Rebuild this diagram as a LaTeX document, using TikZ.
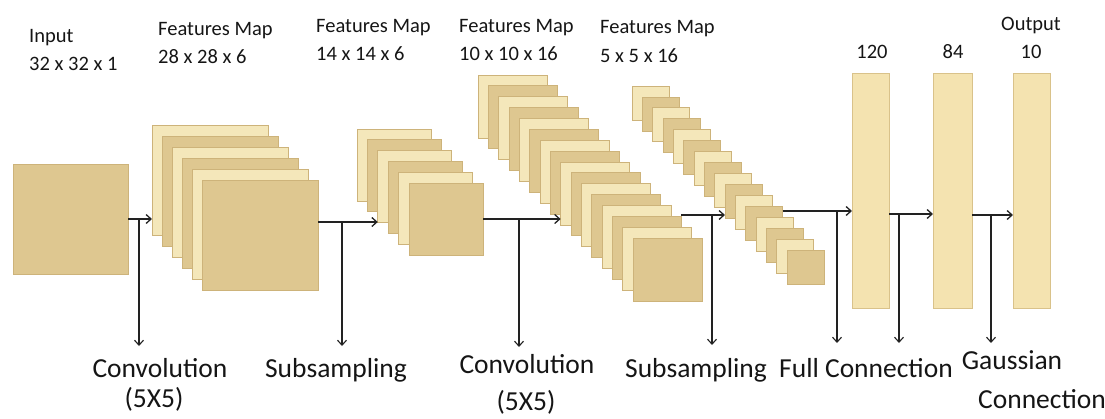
\documentclass[tikz,border=0pt]{standalone}
\usepackage{fontspec}
\setmainfont{Carlito}
\usetikzlibrary{arrows.meta}
\definecolor{tanc}{HTML}{DEC790}
\definecolor{lightc}{HTML}{F4E7BA}
\definecolor{edgec}{HTML}{CDB37A}
\definecolor{fcfill}{HTML}{F4E3B0}
\definecolor{fcedge}{HTML}{D9C28A}
\definecolor{txt}{HTML}{151515}
\definecolor{arrc}{HTML}{222222}
\tikzset{
  sheet/.style={draw=edgec, line width=0.8pt, inner sep=0pt, outer sep=0pt, anchor=north west},
  fcbox/.style={draw=fcedge, fill=fcfill, line width=0.8pt, inner sep=0pt, outer sep=0pt, anchor=north west, minimum width=37pt, minimum height=235pt},
  toplbl/.style={text=txt, inner sep=0pt, font=\fontsize{20.5}{24}\selectfont},
  botlbl/.style={text=txt, inner sep=0pt, anchor=base, font=\fontsize{27.5}{30}\selectfont},
  arr/.style={draw=arrc, line width=1.7pt, -{Straight Barb[length=5pt,width=9pt,line width=1.3pt]}},
  varr/.style={draw=arrc, line width=1.3pt, -{Straight Barb[length=5pt,width=9pt,line width=1.1pt]}}
}
\newcommand{\fmstack}[9]{%
  \foreach \i [evaluate=\i as \xx using #3+\i*#7, evaluate=\i as \yy using #4+\i*#8] in {0,...,#9}{%
    \ifodd\i \def\shc{tanc}\else\def\shc{lightc}\fi
    \node[sheet, fill=\shc, minimum width=#5pt, minimum height=#6pt] (#1-\i) at (\xx,\yy) {};
  }%
}
\begin{document}
\begin{tikzpicture}[x=1pt,y=-1pt]
\useasboundingbox (0,0) rectangle (1105,418);
% input
\node[sheet, fill=tanc, minimum width=115pt, minimum height=110pt] (in) at (13,164) {};
% feature map stacks
\fmstack{fma}{6}{152}{125}{116}{110}{10}{11}{5}
\fmstack{fmb}{6}{357}{129}{74}{72}{10.4}{10.8}{5}
\fmstack{fmc}{16}{478}{75}{69}{63}{10.33}{10.87}{15}
\fmstack{fmd}{16}{632}{86}{37}{34}{10.33}{10.93}{15}
% fully connected
\node[fcbox] (fc1) at (852,73) {};
\node[fcbox, minimum width=39pt] (fc2) at (933,73) {};
\node[fcbox] (out) at (1013,73) {};
% top labels
\node[toplbl, anchor=base west] (l-in1) at (29,42) {Input};
\node[toplbl, anchor=base west] (l-in2) at (29,70) {32 x 32 x 1};
\node[toplbl, anchor=base west] (l-a1) at (158,35) {Features Map};
\node[toplbl, anchor=base west] (l-a2) at (158,63) {28 x 28 x 6};
\node[toplbl, anchor=base west] (l-b1) at (316,32) {Features Map};
\node[toplbl, anchor=base west] (l-b2) at (316,60) {14 x 14 x 6};
\node[toplbl, anchor=base west] (l-c1) at (459,32) {Features Map};
\node[toplbl, anchor=base west] (l-c2) at (459,60) {10 x 10 x 16};
\node[toplbl, anchor=base west] (l-d1) at (600,33) {Features Map};
\node[toplbl, anchor=base west] (l-d2) at (600,62) {5 x 5 x 16};
\node[toplbl, anchor=base] (l-f1) at (872,58) {120};
\node[toplbl, anchor=base] (l-f2) at (953,58) {84};
\node[toplbl, anchor=base] (l-o1) at (1031,30) {Output};
\node[toplbl, anchor=base] (l-o2) at (1031,58) {10};
% bottom labels
\node[botlbl] (conv1a) at (160,377) {Convolution};
\node[botlbl] (conv1b) at (154,407) {(5X5)};
\node[botlbl] (sub1) at (336,377) {Subsampling};
\node[botlbl] (conv2a) at (527,373) {Convolution};
\node[botlbl] (conv2b) at (526,410) {(5X5)};
\node[botlbl] (sub2) at (696,377) {Subsampling};
\node[botlbl] (fcl) at (866,377) {Full Connection};
\node[botlbl] (gaus1) at (1012,369) {Gaussian};
\node[botlbl] (gaus2) at (1042,408) {Connection};
% junctions and arrow ends
\coordinate (j1) at (139,219); \coordinate (t1) at (139,346);
\coordinate (j2) at (342,222); \coordinate (t2) at (342,346);
\coordinate (j3) at (519,219); \coordinate (t3) at (519,347);
\coordinate (j4) at (712,215); \coordinate (t4) at (712,345);
\coordinate (j5) at (837,211); \coordinate (t5) at (837,343);
\coordinate (j6) at (899,214); \coordinate (t6) at (899,343);
\coordinate (j7) at (991,215); \coordinate (t7) at (991,343);
% connectors
\draw[arr] (in.east |- j1) -- (j1 -| fma-0.west);
\draw[varr] (j1) -- (t1);
\draw[arr] (fma-5.east |- j2) -- (j2 -| fmb-2.west);
\draw[varr] (j2) -- (t2);
\draw[arr] (fmb-5.east |- j3) -- (j3 -| fmc-8.west);
\draw[varr] (j3) -- (t3);
\draw[arr] (fmc-13.east |- j4) -- (j4 -| fmd-9.west);
\draw[varr] (j4) -- (t4);
\draw[arr] (fmd-11.east |- j5) -- (j5 -| fc1.west);
\draw[varr] (j5) -- (t5);
\draw[arr] (fc1.east |- j6) -- (j6 -| fc2.west);
\draw[varr] (j6) -- (t6);
\draw[arr] (fc2.east |- j7) -- (j7 -| out.west);
\draw[varr] (j7) -- (t7);
\end{tikzpicture}
\end{document}
